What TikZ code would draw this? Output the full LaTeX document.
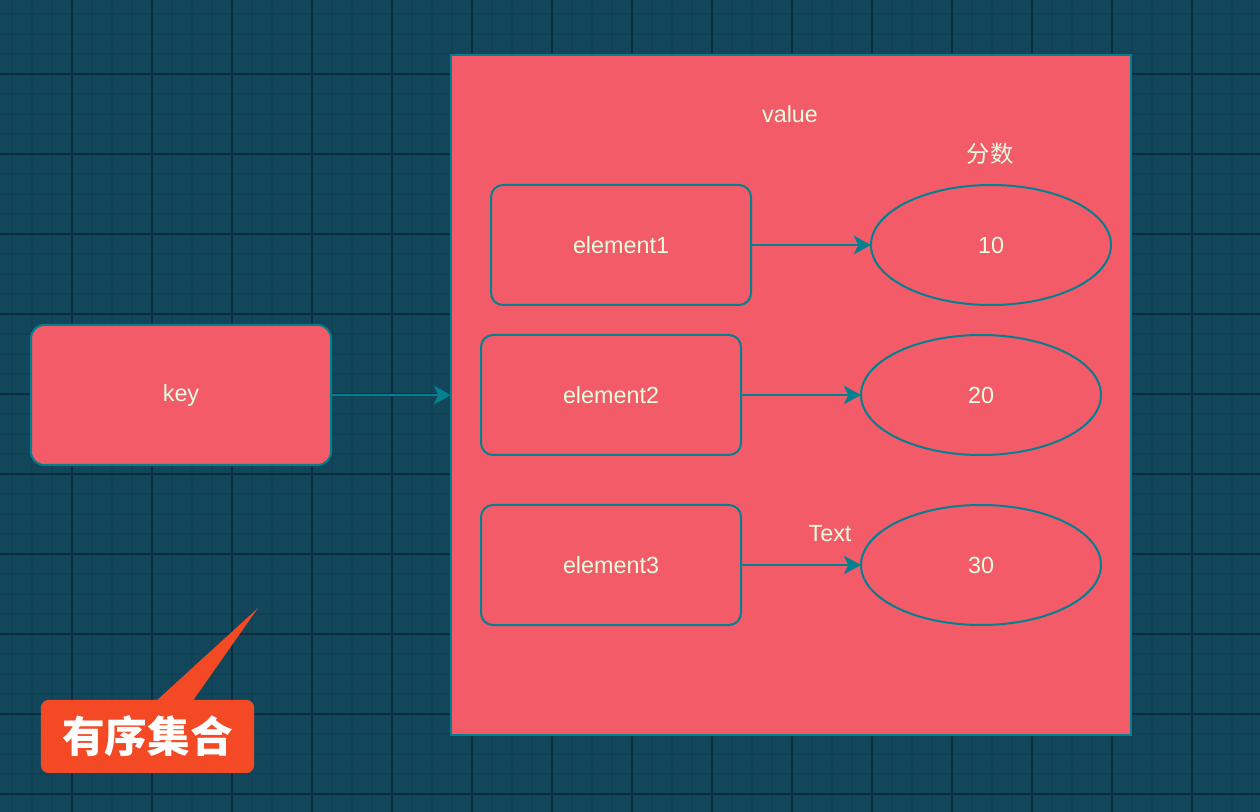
\documentclass[tikz,border=0pt]{standalone}
\usepackage{fontspec}
\setmainfont{Liberation Sans}
\newfontfamily\cjk{Noto Sans CJK SC}
\usetikzlibrary{shapes.geometric,arrows.meta}
\definecolor{bg}{HTML}{12475B}
\definecolor{gminor}{HTML}{104155}
\definecolor{gmajor}{HTML}{0A2E3E}
\definecolor{pinkf}{HTML}{F45B69}
\definecolor{teals}{HTML}{028090}
\definecolor{txt}{HTML}{E4FDE1}
\definecolor{orng}{HTML}{F34A25}
\tikzset{
  lbl/.style={text=txt, font=\fontsize{17.5pt}{20pt}\selectfont, inner sep=0pt},
  shp/.style={fill=pinkf, draw=teals, line width=1.5pt, inner sep=0pt, outer sep=0pt, text=txt, font=\fontsize{17.5pt}{20pt}\selectfont},
  rbox/.style={shp, rectangle, rounded corners=9pt, minimum width=195pt, minimum height=90pt},
  oval/.style={shp, ellipse, minimum width=180pt, minimum height=90pt},
  conn/.style={draw=teals, line width=1.5pt, -{Stealth[length=13pt, width=14pt, inset=3.5pt]}},
}
\begin{document}
\begin{tikzpicture}[x=0.75pt, y=-0.75pt]
\useasboundingbox (0,0) rectangle (1260,812);
\fill[bg] (0,0) rectangle (1260,812);
\foreach \i in {0,...,62} {\draw[gminor, line width=1pt] ({12+20*\i},0) -- ({12+20*\i},812);}
\foreach \j in {0,...,40} {\draw[gminor, line width=1pt] (0,{14+20*\j}) -- (1260,{14+20*\j});}
\foreach \i in {0,...,15} {\draw[gmajor, line width=1pt] ({72+80*\i},0) -- ({72+80*\i},812);}
\foreach \j in {0,...,9} {\draw[gmajor, line width=1pt] (0,{74+80*\j}) -- (1260,{74+80*\j});}

% value container
\node[shp, rectangle, minimum width=510pt, minimum height=510pt] (val) at (791,395) {};
\node[lbl] (vallbl) at (790,114) {value};
\node[lbl, font=\cjk\fontsize{17.5pt}{20pt}\selectfont] (fen) at (990,154) {分数};

% key
\node[rbox, rounded corners=10pt, minimum width=225pt, minimum height=105pt] (key) at (181,395) {key};

% elements
\node[rbox] (e1) at (621,245) {element1};
\node[rbox] (e2) at (611,395) {element2};
\node[rbox] (e3) at (611,565) {element3};
\node[oval] (o1) at (991,245) {10};
\node[oval] (o2) at (981,395) {20};
\node[oval] (o3) at (981,565) {30};
\node[lbl] (txtlbl) at (830,534) {Text};

\draw[conn] (key.east) -- (val.west);
\draw[conn] (e1.east) -- (o1.west);
\draw[conn] (e2.east) -- (o2.west);
\draw[conn] (e3.east) -- (o3.west);

% callout
\coordinate (tip) at (258,608);
\fill[orng] (155,702) -- (tip) -- (192,702) -- cycle;
\node[fill=orng, rounded corners=6pt, minimum width=160pt, minimum height=55pt, inner sep=0pt, text=white, font=\cjk\bfseries\fontsize{32pt}{36pt}\selectfont] (call) at (147.5,736.5) {有序集合};
\end{tikzpicture}
\end{document}
